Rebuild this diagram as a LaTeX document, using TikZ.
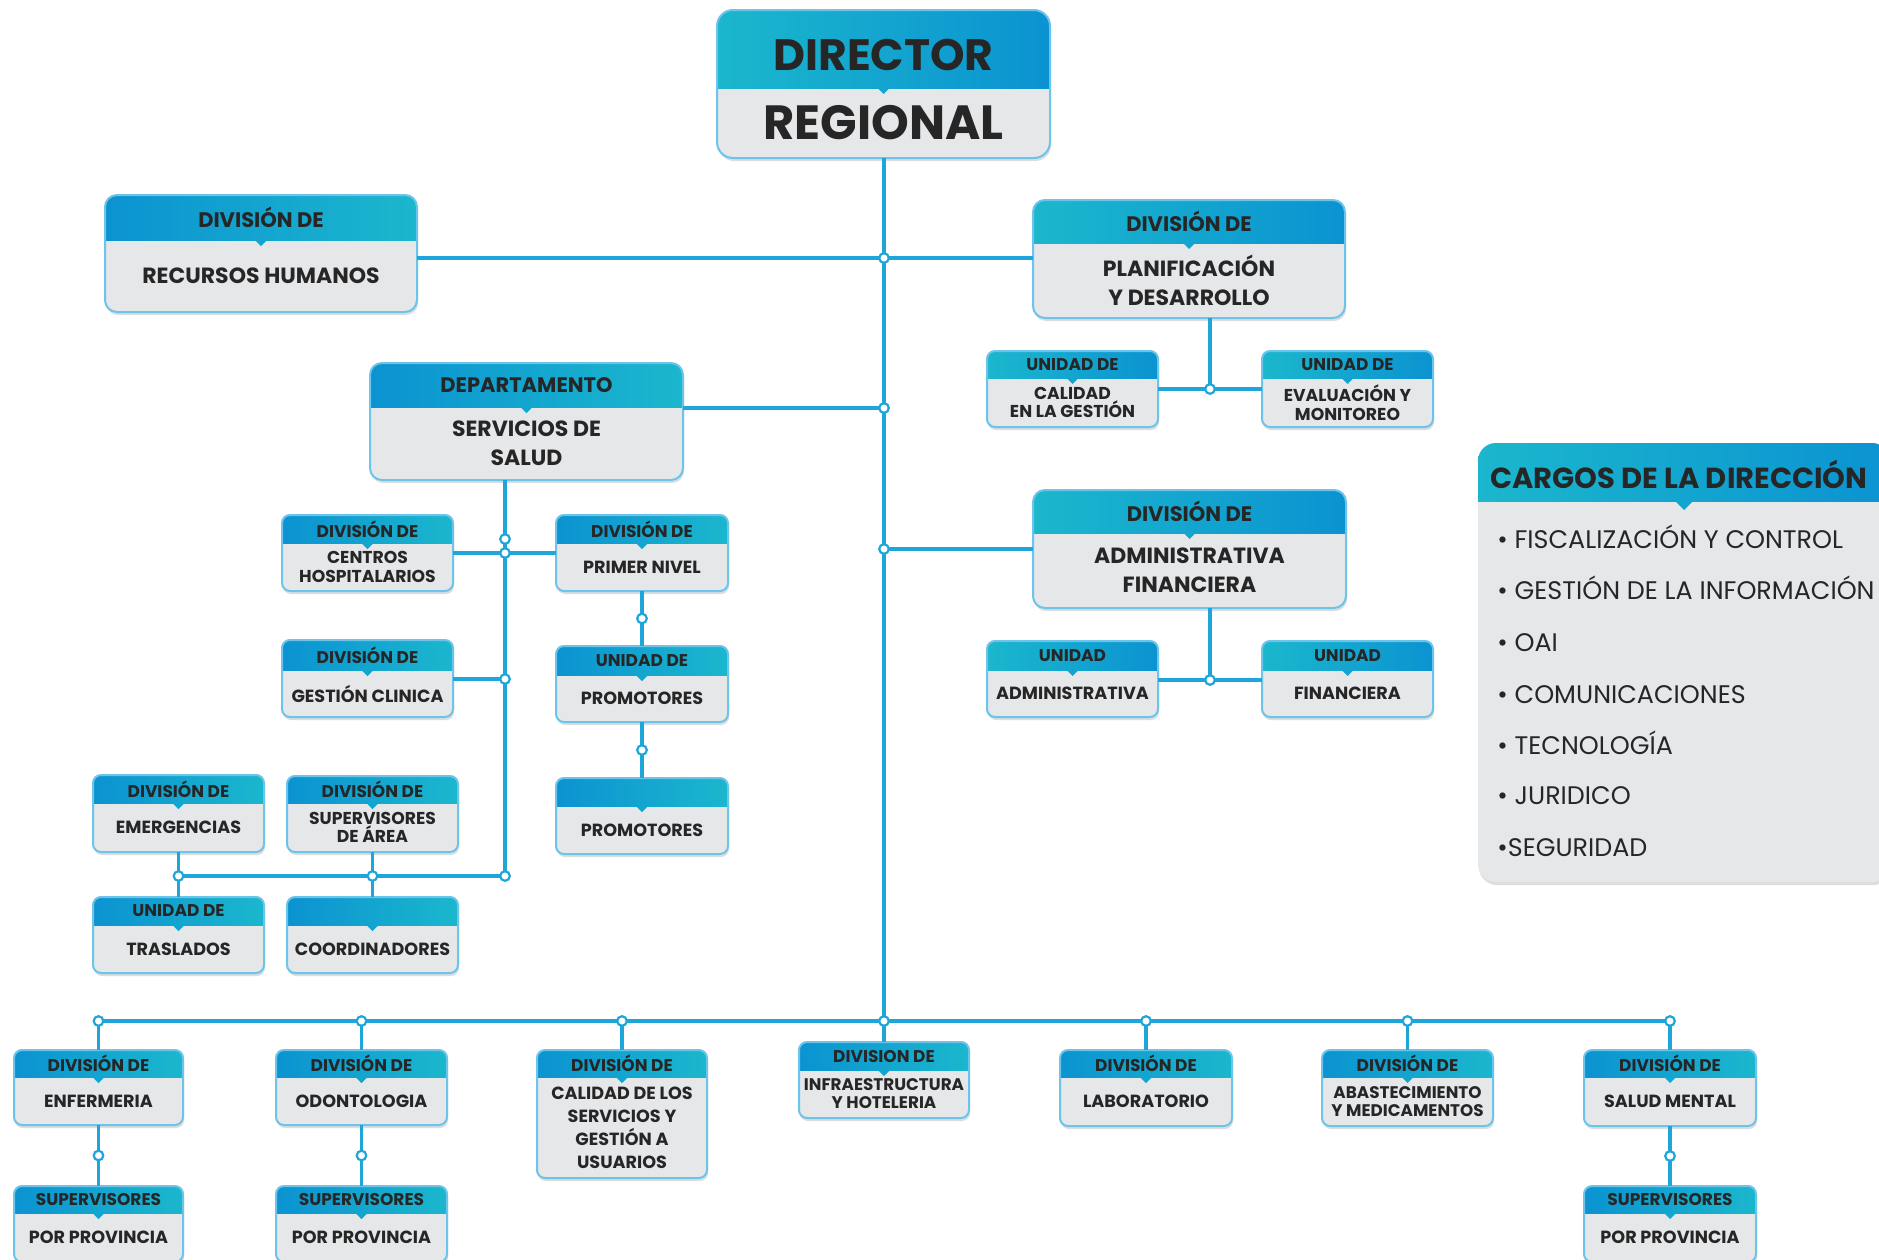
\documentclass[tikz,border=0pt]{standalone}
\usepackage{fontspec}
\setmainfont{Poppins}
\usetikzlibrary{fit,calc}
\definecolor{bl}{HTML}{0B93D1}
\definecolor{cy}{HTML}{1BB7CD}
\definecolor{mid}{HTML}{12A5CF}
\definecolor{bodyc}{HTML}{E6E7E9}
\definecolor{borderc}{HTML}{6CC4EA}
\definecolor{linec}{HTML}{1EA6DA}
\definecolor{txt}{HTML}{262626}
\definecolor{shadowc}{HTML}{DCDDDF}
\tikzset{
 gbc/.style={left color=bl,right color=cy},
 gcb/.style={left color=cy,right color=bl},
 conn/.style={draw=linec,line width=1.8pt},
 jdot/.style={circle,draw=linec,fill=white,line width=1.1pt,inner sep=0pt,minimum size=4.8pt},
 htext/.style={text=txt,inner sep=0pt,align=center},
 btext/.style={text=txt,inner sep=0pt,align=center},
 hfont/.style={font=\bfseries\fontsize{8.5}{10}\selectfont},
 bfont/.style={font=\bfseries\fontsize{8.8}{9.6}\selectfont},
}
\def\obparse#1,#2,#3,#4,#5\relax{\def\obxa{#1}\def\obya{#2}\def\obxb{#3}\def\obyb{#4}\def\obys{#5}}
\def\obr{4pt}
\newcommand\obox[5]{%
 \obparse#2\relax
 \coordinate (#1-nw) at (\obxa,\obya);
 \coordinate (#1-se) at (\obxb,\obyb);
 \coordinate (#1-sp) at (\obxb,\obys);
 \node[fit=(#1-nw)(#1-se),inner sep=0pt,outer sep=0pt] (#1) {};
 \fill[shadowc,rounded corners=\obr] ($(#1-nw)+(1,3)$) rectangle ($(#1-se)+(1,3)$);
 \fill[bodyc,rounded corners=\obr] (#1-nw) rectangle (#1-se);
 \begin{scope}
  \clip[rounded corners=\obr] (#1-nw) rectangle (#1-se);
  \shade[#3] (#1-nw) rectangle (#1-sp);
 \end{scope}
 \fill[mid] ($(#1.center |- #1-sp)+(-6,0)$) -- ($(#1.center |- #1-sp)+(6,0)$) -- ($(#1.center |- #1-sp)+(0,6)$) -- cycle;
 \draw[borderc,line width=1pt,rounded corners=\obr] (#1-nw) rectangle (#1-se);
 \node[htext,hfont] (#1-h) at ($(#1-nw)!0.5!(#1-sp)$) {#4};
 \node[btext,bfont] (#1-b) at ($(#1-sp)!0.5!(\obxa,\obyb)$) {#5};
}
\begin{document}
\begin{tikzpicture}[x=0.5pt,y=-0.5pt]
\useasboundingbox (0,0) rectangle (1879,1259);
\clip (0,0) rectangle (1879,1259);
\fill[white] (0,0) rectangle (1879,1259);

% ---------- boxes ----------
\begin{scope}[hfont/.style={font=\bfseries\fontsize{22}{24}\selectfont,yshift=-3pt},bfont/.style={font=\bfseries\fontsize{24}{26}\selectfont}]
\def\obr{8pt}
\obox{dir}{717,10,1050,158,88}{gcb}{DIRECTOR}{REGIONAL}
\end{scope}

\begin{scope}[hfont/.style={font=\bfseries\fontsize{10.5}{12}\selectfont},bfont/.style={font=\bfseries\fontsize{11}{14.5}\selectfont}]
\def\obr{6pt}
\obox{rrhh}{105,195,417,312,240}{gbc}{DIVISIÓN DE}{RECURSOS HUMANOS}
\obox{plan}{1033,200,1345,318,243}{gcb}{DIVISIÓN DE}{PLANIFICACIÓN\\Y DESARROLLO}
\obox{dept}{370,363,683,480,407}{gbc}{DEPARTAMENTO}{SERVICIOS DE\\SALUD}
\obox{adm}{1033,490,1346,608,533}{gcb}{DIVISIÓN DE}{ADMINISTRATIVA\\FINANCIERA}
\end{scope}

\begin{scope}[bfont/.style={font=\bfseries\fontsize{8.6}{9.2}\selectfont}]
\obox{ucal}{987,351,1158,427,378}{gcb}{UNIDAD DE}{CALIDAD\\EN LA GESTIÓN}
\obox{ueva}{1262,351,1433,427,378}{gcb}{UNIDAD DE}{EVALUACIÓN Y\\MONITOREO}
\obox{cent}{282,515,453,591,543}{gbc}{DIVISIÓN DE}{CENTROS\\HOSPITALARIOS}
\obox{supa}{287,776,458,852,803}{gbc}{DIVISIÓN DE}{SUPERVISORES\\DE ÁREA}
\end{scope}

\obox{uadm}{987,641,1158,717,670}{gcb}{UNIDAD}{ADMINISTRATIVA}
\obox{ufin}{1262,641,1433,717,670}{gcb}{UNIDAD}{FINANCIERA}
\obox{prim}{556,515,728,591,543}{gbc}{DIVISIÓN DE}{PRIMER NIVEL}
\obox{gest}{282,640,453,717,670}{gbc}{DIVISIÓN DE}{GESTIÓN CLINICA}
\obox{uprom}{556,646,728,722,675}{gbc}{UNIDAD DE}{PROMOTORES}
\obox{prom}{556,778,728,854,806}{gbc}{}{PROMOTORES}
\obox{emer}{93,775,264,852,803}{gbc}{DIVISIÓN DE}{EMERGENCIAS}
\obox{trasl}{93,897,264,973,925}{gbc}{UNIDAD DE}{TRASLADOS}
\obox{coord}{287,897,458,973,925}{gbc}{}{COORDINADORES}

\obox{enf}{14,1050,183,1125,1077}{gbc}{DIVISIÓN DE}{ENFERMERIA}
\obox{odon}{276,1050,447,1125,1077}{gbc}{DIVISIÓN DE}{ODONTOLOGIA}
\begin{scope}[bfont/.style={font=\bfseries\fontsize{8.8}{11.5}\selectfont}]
\obox{cals}{537,1050,707,1178,1077}{gbc}{DIVISIÓN DE}{CALIDAD DE LOS\\SERVICIOS Y\\GESTIÓN A\\USUARIOS}
\end{scope}
\begin{scope}[bfont/.style={font=\bfseries\fontsize{8.4}{9}\selectfont}]
\obox{infra}{799,1042,969,1118,1070}{gbc}{DIVISION DE}{INFRAESTRUCTURA\\Y HOTELERIA}
\obox{abas}{1322,1050,1493,1126,1077}{gbc}{DIVISIÓN DE}{ABASTECIMIENTO\\Y MEDICAMENTOS}
\end{scope}
\obox{lab}{1060,1050,1232,1126,1077}{gbc}{DIVISIÓN DE}{LABORATORIO}
\obox{smen}{1584,1050,1756,1126,1077}{gbc}{DIVISIÓN DE}{SALUD MENTAL}
\obox{sp1}{14,1186,183,1262,1213}{gbc}{SUPERVISORES}{POR PROVINCIA}
\obox{sp2}{276,1186,447,1262,1213}{gbc}{SUPERVISORES}{POR PROVINCIA}
\obox{sp3}{1584,1186,1756,1262,1213}{gbc}{SUPERVISORES}{POR PROVINCIA}

% ---------- cargos panel ----------
\coordinate (cg-nw) at (1478,443);
\coordinate (cg-se) at (1890,882);
\coordinate (cg-sp) at (1890,501);
\node[fit=(cg-nw)(cg-se),inner sep=0pt,outer sep=0pt] (cg) {};
\fill[shadowc,rounded corners=9pt] ($(cg-nw)+(1,3)$) rectangle ($(cg-se)+(1,3)$);
\fill[bodyc,rounded corners=9pt] (cg-nw) rectangle (cg-se);
\begin{scope}
 \clip[rounded corners=9pt] (cg-nw) rectangle (cg-se);
 \shade[gcb] (cg-nw) rectangle (cg-sp);
\end{scope}
\fill[mid] ($(cg.center |- cg-sp)+(-9,0)$) -- ($(cg.center |- cg-sp)+(9,0)$) -- ($(cg.center |- cg-sp)+(0,9)$) -- cycle;
\node[anchor=west,text=txt,inner sep=0pt,font=\bfseries\fontsize{14.5}{16}\selectfont] (cgt) at (1490,474) {CARGOS DE LA DIRECCIÓN};
\begin{scope}[every node/.style={anchor=base west,text=txt,inner sep=0pt,font=\fontsize{12.7}{15}\selectfont}]
\node (c1) at (1497,548) {• FISCALIZACIÓN Y CONTROL};
\node (c2) at (1497,599) {• GESTIÓN DE LA INFORMACIÓN};
\node (c3) at (1497,651) {• OAI};
\node (c4) at (1497,703) {• COMUNICACIONES};
\node (c5) at (1497,754) {• TECNOLOGÍA};
\node (c6) at (1497,804) {• JURIDICO};
\node (c7) at (1497,856) {•SEGURIDAD};
\end{scope}

% ---------- connectors ----------
\coordinate (jA) at (884,258);
\coordinate (jB) at (884,408);
\coordinate (jC) at (884,549);
\coordinate (jD) at (884,1021);
\coordinate (jP) at (1210,389);
\coordinate (jQ) at (1210,680);
\coordinate (jS0) at (505,539);
\coordinate (jS1) at (505,553);
\coordinate (jS2) at (505,679);
\coordinate (jS3) at (505,876);

\draw[conn] (jD |- dir.south) -- (jD);
\draw[conn] (rrhh.east |- jA) -- (plan.west |- jA);
\draw[conn] (dept.east |- jB) -- (jB);
\draw[conn] (jC) -- (adm.west |- jC);
\draw[conn] (jP |- plan.south) -- (jP);
\draw[conn] (ucal.east |- jP) -- (ueva.west |- jP);
\draw[conn] (jQ |- adm.south) -- (jQ);
\draw[conn] (uadm.east |- jQ) -- (ufin.west |- jQ);
\draw[conn] (jS3 |- dept.south) -- (jS3);
\draw[conn] (cent.east |- jS1) -- (prim.west |- jS1);
\draw[conn] (gest.east |- jS2) -- (jS2);
\draw[conn] (emer.south |- jS3) -- (jS3);
\draw[conn] (emer.south) -- (trasl.north);
\draw[conn] (supa.south) -- (coord.north);
\draw[conn] (prim.south) -- (uprom.north);
\draw[conn] (uprom.south) -- (prom.north);
\draw[conn] (enf.north |- jD) -- (smen.north |- jD);
\foreach \b in {enf,odon,cals,infra,lab,abas,smen} {\draw[conn] (\b.north |- jD) -- (\b.north);}
\draw[conn] (enf.south) -- (sp1.north);
\draw[conn] (odon.south) -- (sp2.north);
\draw[conn] (smen.south) -- (sp3.north);

% ---------- junction dots ----------
\node[jdot] (dA) at (jA) {};
\node[jdot] (dB) at (jB) {};
\node[jdot] (dC) at (jC) {};
\node[jdot] (dD) at (jD) {};
\node[jdot] (dP) at (jP) {};
\node[jdot] (dQ) at (jQ) {};
\node[jdot] (dS0) at (jS0) {};
\node[jdot] (dS1) at (jS1) {};
\node[jdot] (dS2) at (jS2) {};
\node[jdot] (dS3) at (jS3) {};
\node[jdot] (dE) at (emer.south |- jS3) {};
\node[jdot] (dF) at (supa.south |- jS3) {};
\node[jdot] (dG) at ($(prim.south)!0.5!(uprom.north)$) {};
\node[jdot] (dH) at ($(uprom.south)!0.5!(prom.north)$) {};
\foreach \b in {enf,odon,cals,lab,abas,smen} {\node[jdot] (d-\b) at (\b.north |- jD) {};}
\node[jdot] (dsp1) at ($(enf.south)!0.5!(sp1.north)$) {};
\node[jdot] (dsp2) at ($(odon.south)!0.5!(sp2.north)$) {};
\node[jdot] (dsp3) at ($(smen.south)!0.5!(sp3.north)$) {};
\end{tikzpicture}
\end{document}
